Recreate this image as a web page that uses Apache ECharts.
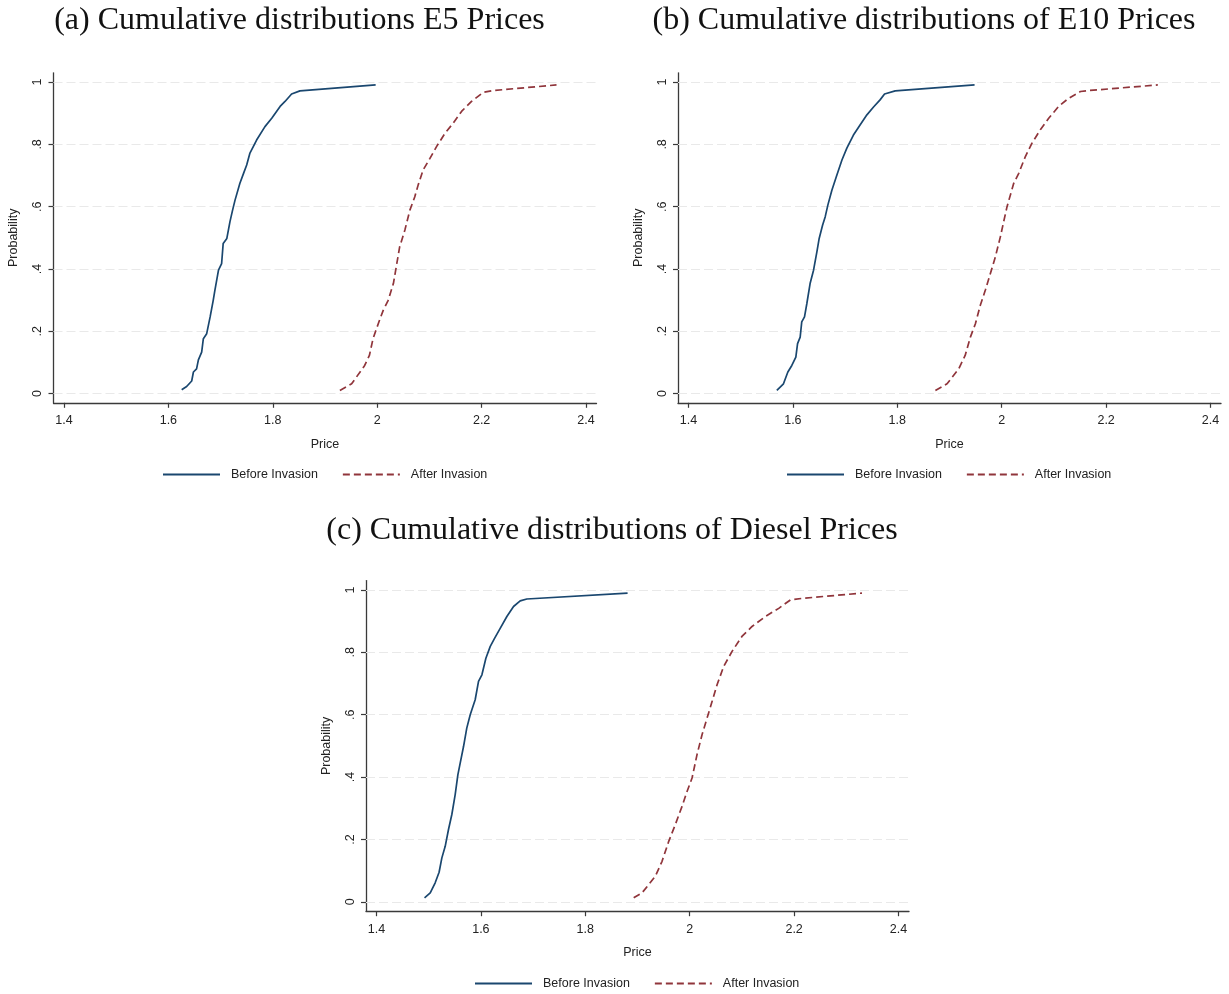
<!DOCTYPE html>
<html>
<head>
<meta charset="utf-8">
<script src="https://cdn.jsdelivr.net/npm/echarts@6/dist/echarts.min.js"></script>
<style>
  html, body { margin: 0; padding: 0; background: #fff; }
  #chart { width: 1229px; height: 994px; }
</style>
</head>
<body>
<div id="chart"></div>
<script>
// ---- Tick values ----
const X_TICKS = [1.4, 1.6, 1.8, 2, 2.2, 2.4];
const Y_TICKS = [0, 0.2, 0.4, 0.6, 0.8, 1];
const SERIES_NAMES = ['Before Invasion', 'After Invasion'];
const PANEL_TITLES = [
  '(a) Cumulative distributions E5 Prices',
  '(b) Cumulative distributions of E10 Prices',
  '(c) Cumulative distributions of Diesel Prices'
];

// ---- (a) E5 ----
const e5BeforePrice = [1.6255, 1.635, 1.6447, 1.648, 1.654, 1.6575, 1.6638, 1.667, 1.6734, 1.68, 1.686, 1.689, 1.696, 1.702, 1.705, 1.712, 1.718, 1.723, 1.7277, 1.737, 1.744, 1.75, 1.756, 1.769, 1.785, 1.798, 1.814, 1.8234, 1.836, 1.852, 1.997];
const e5BeforeProb  = [0.012, 0.0225, 0.04, 0.069, 0.079, 0.108, 0.133, 0.176, 0.192, 0.246, 0.3, 0.33, 0.396, 0.417, 0.482, 0.498, 0.552, 0.589, 0.621, 0.675, 0.707, 0.734, 0.771, 0.814, 0.857, 0.884, 0.922, 0.938, 0.962, 0.972, 0.991];
const e5AfterPrice  = [1.9285, 1.951, 1.976, 1.985, 1.992, 2.002, 2.0115, 2.021, 2.031, 2.037, 2.043, 2.053, 2.0626, 2.072, 2.0785, 2.088, 2.101, 2.1136, 2.13, 2.1455, 2.1615, 2.1806, 2.203, 2.222, 2.3434];
const e5AfterProb   = [0.0097, 0.031, 0.09, 0.122, 0.176, 0.224, 0.267, 0.299, 0.353, 0.412, 0.471, 0.525, 0.589, 0.632, 0.67, 0.718, 0.755, 0.793, 0.836, 0.868, 0.906, 0.938, 0.967, 0.973, 0.991];

// ---- (b) E10 ----
const e10BeforePrice = [1.5693, 1.582, 1.5904, 1.598, 1.6057, 1.609, 1.614, 1.617, 1.6223, 1.6268, 1.633, 1.6396, 1.646, 1.6504, 1.657, 1.662, 1.667, 1.6747, 1.6843, 1.694, 1.7034, 1.716, 1.729, 1.7418, 1.7545, 1.767, 1.7756, 1.796, 1.948];
const e10BeforeProb  = [0.0097, 0.031, 0.069, 0.09, 0.117, 0.16, 0.181, 0.23, 0.246, 0.289, 0.353, 0.396, 0.455, 0.498, 0.541, 0.568, 0.605, 0.653, 0.702, 0.75, 0.788, 0.83, 0.863, 0.895, 0.92, 0.943, 0.962, 0.972, 0.991];
const e10AfterPrice  = [1.873, 1.8953, 1.9176, 1.93, 1.94, 1.9496, 1.959, 1.9687, 1.9783, 1.9879, 1.9974, 2.0038, 2.0102, 2.023, 2.0326, 2.0453, 2.058, 2.074, 2.09, 2.109, 2.128, 2.1507, 2.1667, 2.299];
const e10AfterProb   = [0.0097, 0.031, 0.079, 0.122, 0.181, 0.224, 0.283, 0.332, 0.385, 0.439, 0.503, 0.552, 0.6, 0.675, 0.707, 0.761, 0.804, 0.847, 0.884, 0.922, 0.948, 0.97, 0.973, 0.991];

// ---- (c) Diesel ----
const dieselBeforePrice = [1.4921, 1.503, 1.5125, 1.52, 1.5253, 1.5317, 1.538, 1.5444, 1.5508, 1.556, 1.5604, 1.5668, 1.573, 1.5796, 1.5891, 1.5955, 1.602, 1.6096, 1.618, 1.6262, 1.637, 1.6498, 1.6626, 1.6753, 1.688, 1.881];
const dieselBeforeProb  = [0.0128, 0.0288, 0.061, 0.095, 0.141, 0.178, 0.232, 0.28, 0.344, 0.408, 0.445, 0.498, 0.557, 0.6, 0.648, 0.707, 0.728, 0.781, 0.819, 0.845, 0.877, 0.915, 0.947, 0.965, 0.971, 0.99];
const dieselAfterPrice  = [1.8927, 1.9087, 1.9342, 1.947, 1.9598, 1.9725, 1.9853, 1.9949, 2.0045, 2.014, 2.0236, 2.0332, 2.0428, 2.0524, 2.0651, 2.0811, 2.1, 2.1194, 2.145, 2.1705, 2.1928, 2.2152, 2.33];
const dieselAfterProb   = [0.0128, 0.0288, 0.082, 0.13, 0.194, 0.248, 0.306, 0.354, 0.397, 0.472, 0.536, 0.589, 0.642, 0.696, 0.755, 0.803, 0.851, 0.883, 0.915, 0.941, 0.968, 0.973, 0.99];

const PANEL_DATA = [
  [[e5BeforePrice, e5BeforeProb], [e5AfterPrice, e5AfterProb]],
  [[e10BeforePrice, e10BeforeProb], [e10AfterPrice, e10AfterProb]],
  [[dieselBeforePrice, dieselBeforeProb], [dieselAfterPrice, dieselAfterProb]]
];

// ---- layout (styling only) ----
const LAYOUT = [
  { grid: { left: 53.5, top: 72.8, width: 543, height: 330 }, titleX: 299.5, titleY: 5, legendX: 162, legendY: 468 },
  { grid: { left: 678, top: 72.8, width: 543, height: 330 }, titleX: 924, titleY: 5, legendX: 786, legendY: 468 },
  { grid: { left: 366, top: 580.6, width: 543, height: 330.6 }, titleX: 612, titleY: 514.5, legendX: 474, legendY: 977 }
];

const SANS = 'Liberation Sans, Arial, sans-serif';
const SERIF = 'Liberation Serif, Times New Roman, serif';
const BLUE = '#1a476f';
const RED = '#90353b';
const AXIS_COLOR = '#3a3a3a';
const FS = 12.5;

function fmt(v) {
  if (v === 0) return '0';
  let s = String(Math.round(v * 10) / 10);
  return s.replace(/^0\./, '.');
}

const zip = (xs, ys) => xs.map((x, i) => [x, ys[i]]);

const option = {
  animation: false,
  backgroundColor: '#ffffff',
  title: LAYOUT.map((L, i) => ({
    text: PANEL_TITLES[i],
    left: L.titleX,
    top: L.titleY,
    textAlign: 'center',
    padding: 0,
    textStyle: { fontFamily: SERIF, fontSize: 32, fontWeight: 'normal', color: '#111' }
  })),
  legend: LAYOUT.map((L) => ({
    data: SERIES_NAMES,
    left: L.legendX,
    top: L.legendY,
    itemWidth: 57,
    itemHeight: 12,
    itemGap: 24,
    padding: 0,
    selectedMode: false,
    itemStyle: { opacity: 0, color: 'rgba(0,0,0,0)', borderWidth: 0 },
    textStyle: { fontFamily: SANS, fontSize: FS, color: '#222', padding: [0, 0, 0, 6] }
  })),
  grid: LAYOUT.map(L => Object.assign({ containLabel: false }, L.grid)),
  xAxis: LAYOUT.map((L, i) => ({
    gridIndex: i,
    type: 'value',
    min: 1.38,
    max: 2.42,
    name: 'Price',
    nameLocation: 'middle',
    nameGap: 35,
    nameTextStyle: { fontFamily: SANS, fontSize: FS, color: '#222' },
    axisLine: { show: true, onZero: false, lineStyle: { color: AXIS_COLOR, width: 1.3 } },
    axisTick: { show: true, length: 5, inside: false, customValues: X_TICKS, lineStyle: { color: AXIS_COLOR, width: 1.2 } },
    axisLabel: { customValues: X_TICKS, margin: 11.5, fontFamily: SANS, fontSize: FS, color: '#222', formatter: fmt },
    splitLine: { show: false }
  })),
  yAxis: LAYOUT.map((L, i) => ({
    gridIndex: i,
    type: 'value',
    min: -0.03,
    max: 1.03,
    name: 'Probability',
    nameLocation: 'middle',
    nameGap: 33,
    nameRotate: 90,
    nameTextStyle: { fontFamily: SANS, fontSize: FS, color: '#222' },
    axisLine: { show: true, onZero: false, lineStyle: { color: AXIS_COLOR, width: 1.3 } },
    axisTick: { show: true, length: 5, inside: false, customValues: Y_TICKS, lineStyle: { color: AXIS_COLOR, width: 1.2 } },
    axisLabel: { customValues: Y_TICKS, rotate: 90, margin: 9, fontFamily: SANS, fontSize: FS, color: '#222', formatter: fmt },
    splitLine: { show: false }
  })),
  series: []
};

PANEL_DATA.forEach((pair, i) => {
  pair.forEach((xy, j) => {
    const s = {
      name: SERIES_NAMES[j],
      type: 'line',
      xAxisIndex: i,
      yAxisIndex: i,
      data: zip(xy[0], xy[1]),
      symbol: 'none',
      showSymbol: false,
      smooth: false,
      silent: true,
      z: 3,
      lineStyle: j === 0
        ? { color: BLUE, width: 1.7, type: 'solid' }
        : { color: RED, width: 1.7, type: [7, 4] },
      itemStyle: { color: j === 0 ? BLUE : RED }
    };
    if (j === 0) {
      s.markLine = {
        silent: true,
        symbol: ['none', 'none'],
        label: { show: false },
        z: 1,
        lineStyle: { color: '#e9e9e9', width: 1, type: [9, 4] },
        data: Y_TICKS.map(v => ({ yAxis: v }))
      };
    }
    option.series.push(s);
  });
});

const chart = echarts.init(document.getElementById('chart'), null, { renderer: 'canvas' });
chart.setOption(option);
</script>
</body>
</html>
